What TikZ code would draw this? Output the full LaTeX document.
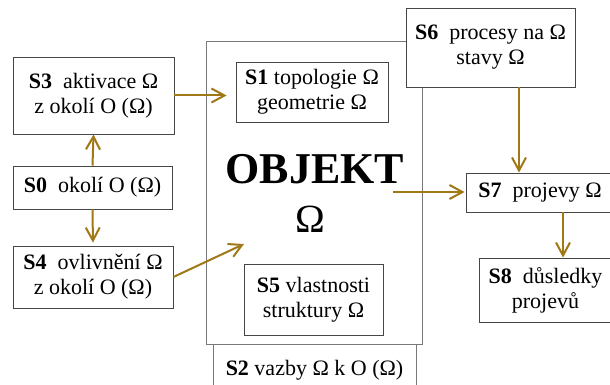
\documentclass[tikz,border=0pt]{standalone}
\usepackage{fontspec}
\setmainfont{Liberation Serif}
\usepackage{tikz}
\usetikzlibrary{arrows.meta, positioning}
\usepackage{xcolor}
\definecolor{Gold}{RGB}{160, 120, 22}
\definecolor{BoxGray}{RGB}{70, 70, 70}
\definecolor{FrameGray}{RGB}{120, 120, 120}
\tikzset{%
  smooth_block/.style={%
    rectangle,%
    draw=BoxGray,%
    line width=0.8pt,%
    fill=white,%
    inner sep=0pt,%
    align=center,%
    font={\fontsize{22}{25}\selectfont},%
  },
  object_frame/.style={%
    rectangle,%
    draw=FrameGray,%
    line width=0.8pt,%
    inner sep=0pt,%
  },
  object_title/.style={%
    anchor=base,%
    inner sep=0pt,%
    font={\fontsize{44}{44}\selectfont\bfseries},%
  },
  smooth_path/.style={%
    color=Gold,%
    line width=2pt,%
    line join=round,%
  },
  arrow/.style={-{Straight Barb[length=13pt, width=14pt, line width=2pt]}},
}

\begin{document}
\begin{tikzpicture}[x=1pt, y=-1pt]
    \useasboundingbox (0,0) rectangle (610,385);

    % object frame and bonds below it
    \node [object_frame, minimum width=203pt, minimum height=52pt] (S2) at (314.5,370)
      {\fontsize{22}{25}\selectfont\textbf{S2} vazby Ω k O (Ω)};
    \node [object_frame, fill=white, minimum width=216pt, minimum height=303pt] (Objekt) at (314,192.5) {};
    \node [object_title] (Objekt_title) at (315,183) {OBJEKT};
    \node [object_title, font={\fontsize{40}{40}\selectfont}] (Objekt_omega) at (310,232) {Ω};

    \node [smooth_block, minimum width=152pt, minimum height=60pt] (S1) at (312,92)
      {\textbf{S1} topologie Ω\\ geometrie Ω};
    \node [smooth_block, minimum width=139pt, minimum height=71pt] (S5) at (313.5,299.5)
      {\textbf{S5} vlastnosti\\ struktury Ω};

    % surroundings
    \node [smooth_block, minimum width=161pt, minimum height=77pt] (S3) at (93.5,95.5)
      {\textbf{S3}\ \ aktivace Ω\\ z okolí O (Ω)};
    \node [smooth_block, minimum width=159pt, minimum height=43pt] (S0) at (92.5,187.5)
      {\textbf{S0}\ \ okolí O (Ω)};
    \node [smooth_block, minimum width=160pt, minimum height=62pt] (S4) at (93,277)
      {\textbf{S4}\ \ ovlivnění Ω\\ z okolí O (Ω)};

    % processes and outputs
    \node [smooth_block, minimum width=169pt, minimum height=79pt] (S6) at (490.5,47.5)
      {\textbf{S6}\ \ procesy na Ω\\ stavy Ω};
    \node [smooth_block, minimum width=148pt, minimum height=39pt] (S7) at (540,192.5)
      {\textbf{S7}\ \ projevy Ω};
    \node [smooth_block, minimum width=133pt, minimum height=64pt] (S8) at (545.5,290)
      {\textbf{S8}\ \ důsledky\\ projevů};

    \coordinate (S4_tip) at (244,244);
    \coordinate (Objekt_out) at (393,192);

    \draw [arrow, smooth_path, shorten >=9pt]
      (S3.east) -- (S3.east -| S1.west);
    \draw [arrow, smooth_path]
      (S0.north) -- (S3.south);
    \draw [arrow, smooth_path, shorten >=3pt]
      (S0.south) -- (S4.north);
    \draw [arrow, smooth_path]
      (S4.east) -- (S4_tip);
    \draw [arrow, smooth_path, shorten >=1pt]
      (Objekt_out) -- (Objekt_out -| S7.west);
    \draw [arrow, smooth_path]
      ([xshift=28.5pt]S6.south) -- ([xshift=28.5pt]S6.south |- S7.north);
    \draw [arrow, smooth_path, line width=1.6pt]
      ([xshift=23pt]S7.south) -- ([xshift=23pt]S7.south |- S8.north);
  \end{tikzpicture}
\end{document}
